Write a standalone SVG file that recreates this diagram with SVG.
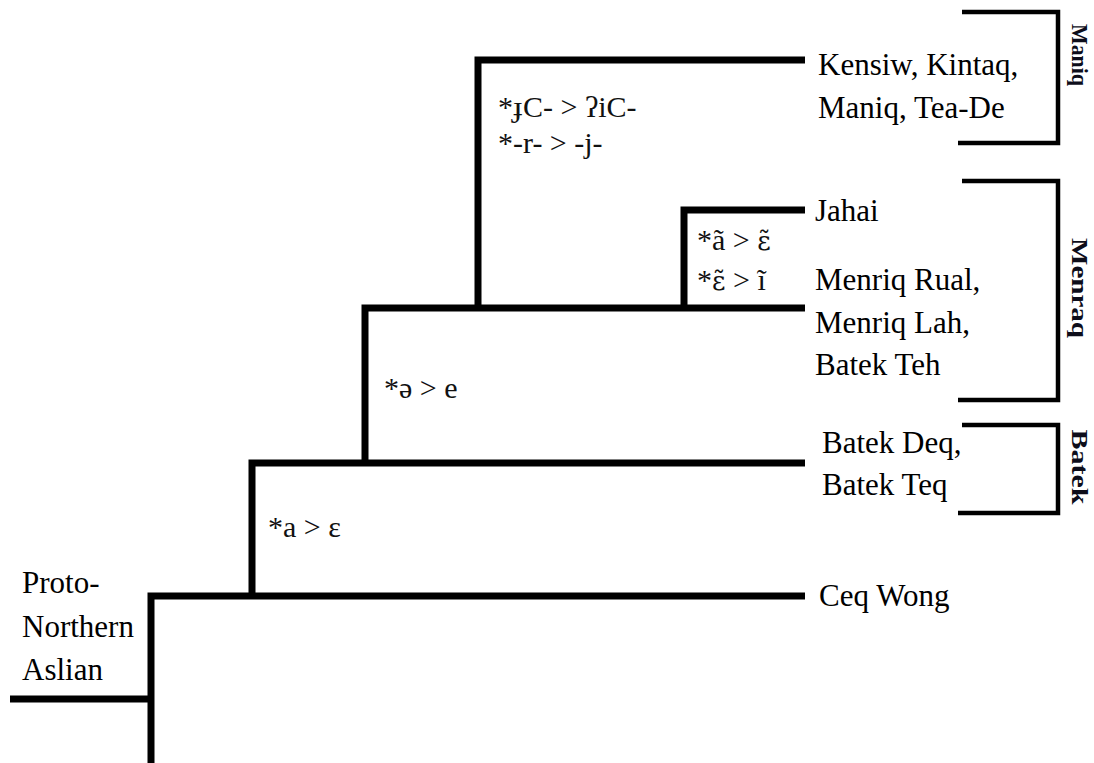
<svg xmlns="http://www.w3.org/2000/svg" width="1094" height="763" viewBox="0 0 1094 763">
  <style>
    .branch { fill: none; stroke: #000; stroke-width: 7; stroke-linejoin: miter; stroke-linecap: butt; }
    .brace { fill: none; stroke: #000; stroke-width: 4.5; stroke-linejoin: miter; stroke-linecap: butt; }
    .lang { font-family: "Liberation Serif", "DejaVu Serif", serif; font-size: 31px; fill: #000; }
    .change { font-family: "Liberation Serif", "DejaVu Serif", serif; font-size: 30px; fill: #111; }
    /* DejaVu Serif places the combining tilde properly over epsilon */
    .nasal { font-family: "DejaVu Serif", serif; font-size: 26px; }
    .group { font-family: "Liberation Serif", "DejaVu Serif", serif; font-size: 23px; font-weight: bold; fill: #0d0d1a; text-anchor: middle; }
  </style>
  <rect width="1094" height="763" fill="#fff"/>

  <!-- tree branches -->
  <g id="connectors">
    <path class="branch" d="M10 699 H151"/>
    <path class="branch" d="M151 763 V596 H805"/>
    <path class="branch" d="M252 596 V463 H805"/>
    <path class="branch" d="M365 463 V308 H805"/>
    <path class="branch" d="M478 308 V60 H805"/>
    <path class="branch" d="M684 308 V210 H805"/>
  </g>

  <!-- subgroup brackets -->
  <g id="brackets">
    <path class="brace" d="M962 12 H1058 V143 H958"/>
    <path class="brace" d="M962 181 H1058 V400 H958"/>
    <path class="brace" d="M962 425 H1058 V513 H958"/>
  </g>

  <!-- root -->
  <g id="proto-northern-aslian">
    <text class="lang" x="22" y="593">Proto-</text>
    <text class="lang" x="22" y="637">Northern</text>
    <text class="lang" x="22" y="680">Aslian</text>
  </g>

  <!-- sound changes on the branches -->
  <g id="change-a-epsilon">
    <text class="change" x="268" y="537">*a &gt; ε</text>
  </g>
  <g id="change-schwa-e">
    <text class="change" x="384" y="398">*ə &gt; e</text>
  </g>
  <g id="change-maniq">
    <text class="change" x="498" y="117">*ɟC- &gt; ʔiC-</text>
    <text class="change" x="498" y="153">*-r- &gt; -j-</text>
  </g>
  <g id="change-nasal">
    <text class="change" x="697" y="250">*ã &gt; <tspan class="nasal">ε̃</tspan></text>
    <text class="change" x="697" y="290">*<tspan class="nasal">ε̃</tspan> &gt; ĩ</text>
  </g>

  <!-- leaves -->
  <g id="kensiw-kintaq-maniq-teade">
    <text class="lang" x="818" y="75">Kensiw, Kintaq,</text>
    <text class="lang" x="818" y="118">Maniq, Tea-De</text>
  </g>
  <g id="jahai">
    <text class="lang" x="815" y="221">Jahai</text>
  </g>
  <g id="menriq-batekteh">
    <text class="lang" x="815" y="290">Menriq Rual,</text>
    <text class="lang" x="815" y="333">Menriq Lah,</text>
    <text class="lang" x="815" y="375">Batek Teh</text>
  </g>
  <g id="batek-deq-teq">
    <text class="lang" x="822" y="453">Batek Deq,</text>
    <text class="lang" x="822" y="495">Batek Teq</text>
  </g>
  <g id="ceq-wong">
    <text class="lang" x="819" y="606">Ceq Wong</text>
  </g>

  <!-- subgroup labels, read top to bottom -->
  <g id="label-maniq">
    <text class="group" transform="translate(1072 55) rotate(90)" textLength="62" lengthAdjust="spacingAndGlyphs">Maniq</text>
  </g>
  <g id="label-menraq">
    <text class="group" transform="translate(1072 288) rotate(90)" textLength="100" lengthAdjust="spacingAndGlyphs">Menraq</text>
  </g>
  <g id="label-batek">
    <text class="group" transform="translate(1072 467) rotate(90)" textLength="75" lengthAdjust="spacingAndGlyphs">Batek</text>
  </g>
</svg>
